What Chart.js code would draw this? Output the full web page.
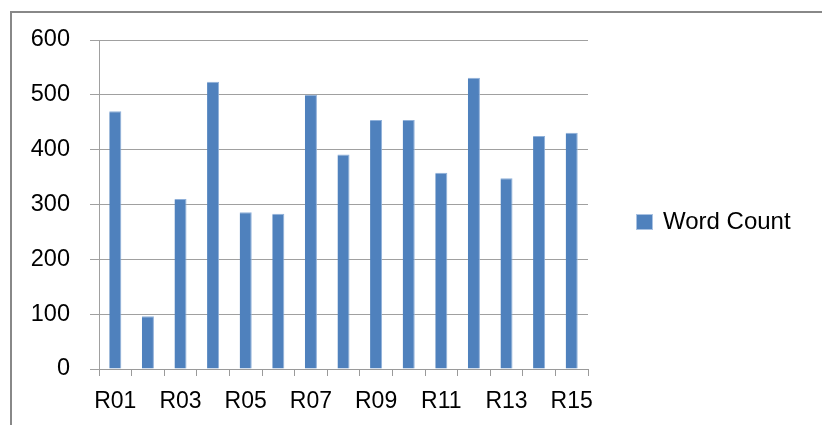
<!DOCTYPE html>
<html>
<head>
<meta charset="utf-8">
<script src="https://cdn.jsdelivr.net/npm/chart.js@4"></script>
<style>
  html, body { margin: 0; padding: 0; background: #ffffff; overflow: hidden; }
  #wrap { position: relative; width: 822px; height: 425px; }
  #frame { position: absolute; left: 10px; top: 11px; width: 900px; height: 500px;
           border-top: 2px solid #888888; border-left: 2px solid #888888; }
  canvas { position: absolute; left: 0; top: 0; }
</style>
</head>
<body>
<div id="wrap">
  <div id="frame"></div>
  <canvas id="c" width="822" height="425"></canvas>
</div>
<script>
const categories = ["R01","R02","R03","R04","R05","R06","R07","R08","R09","R10","R11","R12","R13","R14","R15"];
const wordCount = [470, 96, 310, 524, 286, 283, 500, 391, 454, 454, 358, 531, 348, 425, 431];
const seriesName = "Word Count";
const yTicks = [0, 100, 200, 300, 400, 500, 600];

const FONT = "'Liberation Sans', Arial, sans-serif";
const BAR = "#4F81BD";

const legendPlugin = {
  id: 'customLegend',
  afterDraw(chart) {
    const ctx = chart.ctx;
    const ds = chart.data.datasets[0];
    ctx.save();
    ctx.fillStyle = ds.backgroundColor;
    ctx.fillRect(636, 214, 17, 16);
    ctx.strokeStyle = '#a9c2e2';
    ctx.lineWidth = 1;
    ctx.strokeRect(636.5, 214.5, 16, 15);
    ctx.fillStyle = '#000';
    ctx.font = "24px " + FONT;
    ctx.textBaseline = 'middle';
    ctx.textAlign = 'left';
    ctx.fillText(ds.label, 663, 222);
    ctx.restore();
  }
};

new Chart(document.getElementById('c'), {
  type: 'bar',
  data: {
    labels: categories,
    datasets: [{
      label: seriesName,
      data: wordCount,
      backgroundColor: BAR,
      borderColor: '#8fb0d9',
      borderWidth: { top: 1, right: 1, left: 0, bottom: 0 },
      barPercentage: 0.37,
      categoryPercentage: 1.0
    }]
  },
  options: {
    responsive: false,
    animation: false,
    devicePixelRatio: 1,
    layout: { padding: { left: 0, top: 40, right: 234, bottom: 0 } },
    plugins: { legend: { display: false }, tooltip: { enabled: false } },
    scales: {
      x: {
        afterFit(scale) { scale.height = 56; },
        grid: { display: true, drawOnChartArea: false, drawTicks: true, tickLength: 7,
                color: '#9a9a9a', lineWidth: 1, offset: true },
        border: { display: true, color: '#9a9a9a', width: 1 },
        ticks: {
          autoSkip: false, maxRotation: 0, minRotation: 0, padding: 12,
          color: '#000', font: { family: FONT, size: 23 },
          callback(v, i) { return i % 2 === 0 ? categories[i] : ''; }
        }
      },
      y: {
        min: 0, max: 600,
        afterFit(scale) { scale.width = 99; },
        afterBuildTicks(scale) { scale.ticks = yTicks.map(v => ({ value: v })); },
        grid: { color: '#a0a0a0', lineWidth: 1, drawTicks: true, tickLength: 9 },
        border: { display: true, color: '#a0a0a0', width: 1 },
        ticks: { padding: 20, color: '#000', font: { family: FONT, size: 23.5 } }
      }
    }
  },
  plugins: [legendPlugin]
});
</script>
</body>
</html>
